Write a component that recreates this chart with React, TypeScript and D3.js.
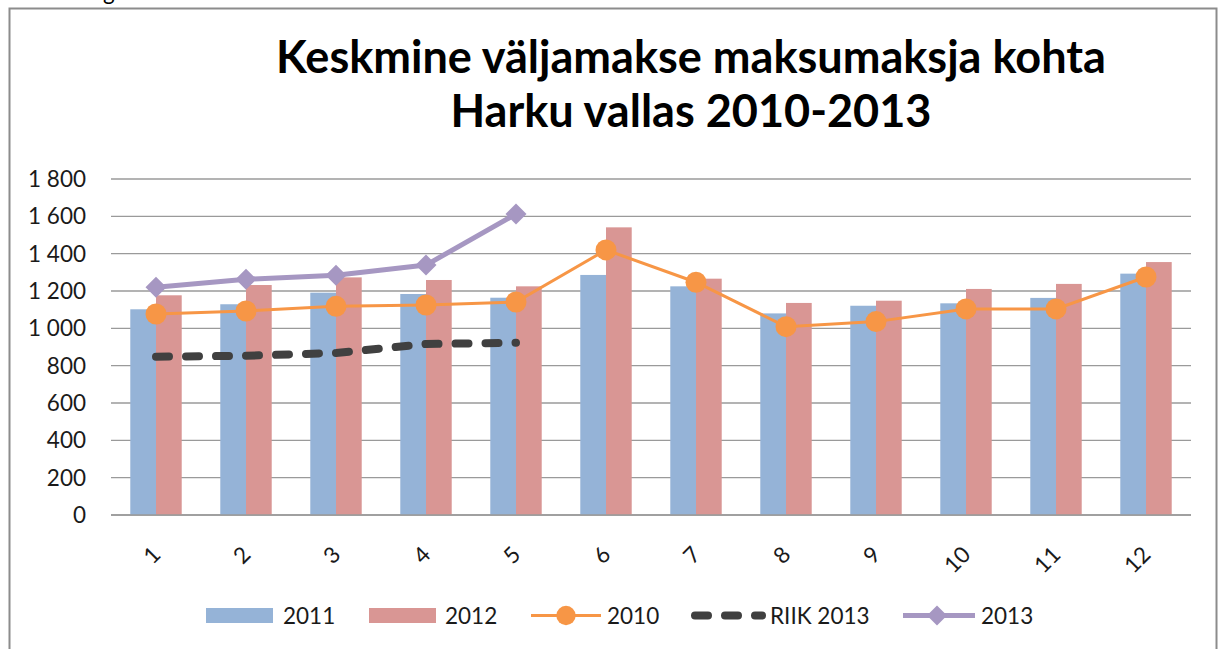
import React, { useLayoutEffect, useRef, useState } from 'react';
import * as d3 from 'd3';

const months = ['1', '2', '3', '4', '5', '6', '7', '8', '9', '10', '11', '12'];
const values2011 = [1102, 1129, 1191, 1184, 1164, 1286, 1225, 1080, 1121, 1134, 1163, 1293];
const values2012 = [1177, 1232, 1273, 1259, 1225, 1541, 1266, 1136, 1148, 1211, 1238, 1355];
const values2010 = [1077, 1093, 1118, 1125, 1141, 1420, 1247, 1009, 1036, 1104, 1104, 1275];
const riik2013 = [848, 853, 868, 916, 923];
const values2013 = [1220, 1263, 1284, 1339, 1612];
const yTicks = [0, 200, 400, 600, 800, 1000, 1200, 1400, 1600, 1800];
const titleLines = ['Keskmine väljamakse maksumaksja kohta', 'Harku vallas 2010-2013'];
const barSeries = ['2011', '2012'];

const C_BLUE = '#95B3D7';
const C_PINK = '#D99694';
const C_ORANGE = '#F79646';
const C_DARK = '#404040';
const C_PURPLE = '#A697C2';
const GRID = '#9a9a9a';
const FONT = 'Lato, "Open Sans", sans-serif';

const fmt = d3.formatLocale({ decimal: ',', thousands: ' ', grouping: [3], currency: ['', ''] }).format(',');

export default function App() {
  const W = 1219;
  const H = 649;
  const left = 111;
  const right = 1191;
  const top = 179;
  const bottom = 515;

  const x = d3.scaleBand<string>().domain(months).range([left, right]);
  const xi = d3.scaleBand<string>().domain(barSeries).range([0, x.bandwidth()]).paddingOuter(0.75);
  const y = d3.scaleLinear().domain([0, 1800]).range([bottom, top]);
  const cx = (i: number) => (x(months[i]) as number) + x.bandwidth() / 2;

  const line = d3
    .line<number>()
    .x((_, i) => cx(i))
    .y((d) => y(d));

  const t1 = useRef<SVGTextElement>(null);
  const [fs, setFs] = useState(40);
  useLayoutEffect(() => {
    if (t1.current) {
      const w = t1.current.getComputedTextLength();
      if (w > 0 && Math.abs(w - 830) > 1) setFs((f) => (f * 830) / w);
    }
  }, [fs]);

  const diamond = (px: number, py: number, r: number) =>
    `M${px},${py - r}L${px + r},${py}L${px},${py + r}L${px - r},${py}Z`;

  const legendY = 615.5;
  const legendBase = 624;
  const labelSize = 22.5;

  return (
    <svg
      width={W}
      height={H}
      style={{ position: 'absolute', left: 0, top: 0, background: '#fff' }}
      fontFamily={FONT}
    >
      <rect x={0} y={0} width={W} height={H} fill="#fff" />
      <text x={103} y={0} fontSize={labelSize} fill="#000">g</text>
      <rect x={9.5} y={8.5} width={1207} height={700} fill="none" stroke="#8c8c8c" strokeWidth={2} />

      {/* title */}
      <text ref={t1} x={691} y={73} textAnchor="middle" fontWeight="bold" fontSize={fs} fill="#000">
        {titleLines[0]}
      </text>
      <text x={691} y={127} textAnchor="middle" fontWeight="bold" fontSize={fs} fill="#000">
        {titleLines[1]}
      </text>

      {/* gridlines and y labels */}
      {yTicks.map((t) => (
        <g key={t}>
          <line x1={left} x2={right} y1={y(t)} y2={y(t)} stroke={GRID} strokeWidth={1.3} />
          <text x={86} y={y(t) + 8} textAnchor="end" fontSize={labelSize} fill="#1a1a1a">
            {fmt(t)}
          </text>
        </g>
      ))}

      {/* bars */}
      {months.map((m, i) => (
        <g key={m} transform={`translate(${x(m)},0)`}>
          <rect
            x={xi('2011')}
            y={y(values2011[i])}
            width={xi.bandwidth()}
            height={bottom - y(values2011[i])}
            fill={C_BLUE}
          />
          <rect
            x={xi('2012')}
            y={y(values2012[i])}
            width={xi.bandwidth()}
            height={bottom - y(values2012[i])}
            fill={C_PINK}
          />
        </g>
      ))}

      {/* x labels */}
      {months.map((m, i) => (
        <text
          key={m}
          transform={`translate(${cx(i) + 6},556) rotate(-45)`}
          textAnchor="end"
          fontSize={labelSize}
          fill="#1a1a1a"
        >
          {m}
        </text>
      ))}

      {/* 2010 line */}
      <path d={line(values2010) || ''} fill="none" stroke={C_ORANGE} strokeWidth={3} />
      {values2010.map((v, i) => (
        <circle key={i} cx={cx(i)} cy={y(v)} r={10.5} fill={C_ORANGE} />
      ))}

      {/* RIIK 2013 */}
      <path
        d={line(riik2013) || ''}
        fill="none"
        stroke={C_DARK}
        strokeWidth={8}
        strokeDasharray="13 17"
        strokeLinecap="round"
      />

      {/* 2013 */}
      <path d={line(values2013) || ''} fill="none" stroke={C_PURPLE} strokeWidth={5} strokeLinejoin="round" />
      {values2013.map((v, i) => (
        <path key={i} d={diamond(cx(i), y(v), 10.5)} fill={C_PURPLE} />
      ))}

      {/* axis line */}
      <line x1={left} x2={right} y1={bottom} y2={bottom} stroke={GRID} strokeWidth={1.3} />

      {/* legend */}
      <rect x={206} y={608} width={67} height={15} fill={C_BLUE} />
      <text x={283} y={legendBase} fontSize={labelSize} fill="#1a1a1a">2011</text>
      <rect x={369} y={608} width={67} height={15} fill={C_PINK} />
      <text x={445} y={legendBase} fontSize={labelSize} fill="#1a1a1a">2012</text>
      <line x1={531} x2={601} y1={legendY} y2={legendY} stroke={C_ORANGE} strokeWidth={3} />
      <circle cx={566} cy={legendY} r={9.7} fill={C_ORANGE} />
      <text x={607} y={legendBase} fontSize={labelSize} fill="#1a1a1a">2010</text>
      <line
        x1={695}
        x2={762}
        y1={legendY}
        y2={legendY}
        stroke={C_DARK}
        strokeWidth={8}
        strokeDasharray="13 17"
        strokeLinecap="round"
      />
      <text x={770} y={legendBase} fontSize={labelSize} fill="#1a1a1a">RIIK 2013</text>
      <line x1={903} x2={975} y1={legendY} y2={legendY} stroke={C_PURPLE} strokeWidth={5} />
      <path d={diamond(937, legendY, 10)} fill={C_PURPLE} />
      <text x={981} y={legendBase} fontSize={labelSize} fill="#1a1a1a">2013</text>
    </svg>
  );
}
